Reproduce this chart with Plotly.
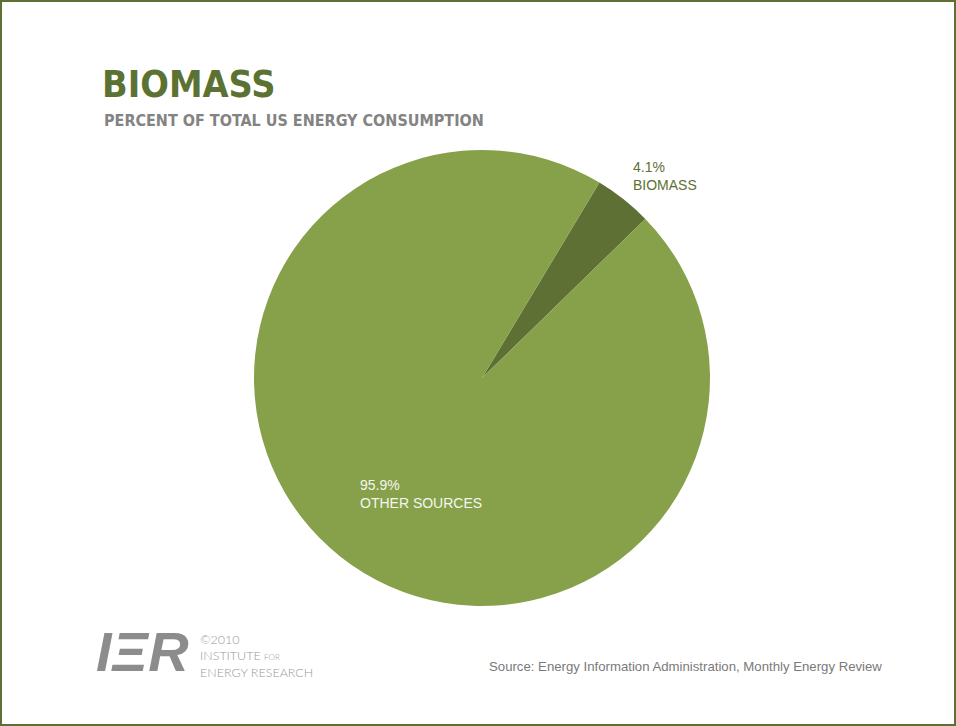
import plotly.graph_objects as go

labels = ["BIOMASS", "OTHER SOURCES"]
values = [4.1, 95.9]
colors = ["#5e7033", "#87a14b"]

W, H = 956, 726
cx, cy, r = 482, 378, 228

fig = go.Figure(go.Pie(
    labels=labels, values=values, sort=False, direction="clockwise",
    rotation=31, textinfo="none", hoverinfo="label+percent",
    marker=dict(colors=colors, line=dict(width=0)),
    domain=dict(x=[(cx - r) / W, (cx + r) / W], y=[1 - (cy + r) / H, 1 - (cy - r) / H]),
    showlegend=False,
))

ann = []
def txt(x, y, s, size, color, family="Liberation Sans", xanchor="left", yanchor="middle"):
    ann.append(dict(x=x / W, y=1 - y / H, xref="paper", yref="paper", text=s, showarrow=False,
                    xanchor=xanchor, yanchor=yanchor, align="left",
                    font=dict(size=size, color=color, family=family)))

COND = "DejaVu Sans Condensed, Roboto, sans-serif"
txt(100, 84, "<b>BIOMASS</b>", 37.5, "#5c7232", COND)
txt(102, 121, "<b>PERCENT OF TOTAL US ENERGY CONSUMPTION</b>", 16, "#838383", COND)
txt(631, 176, f"{values[0]}%<br>{labels[0]}", 14, "#5e7033")
txt(358, 494, f"{values[1]}%<br>{labels[1]}", 14, "#f4f6ee")
txt(884, 666, "Source: Energy Information Administration, Monthly Energy Review", 13.2, "#7a7a7a", xanchor="right")
txt(94, 651, "<b><i>IΞR</i></b>", 56, "#8c8c8c", "Liberation Sans")
ann.append(dict(x=198 / W, y=1 - 630 / H, xref="paper", yref="paper", showarrow=False,
                xanchor="left", yanchor="top", align="left",
                text="©2010<br>INSTITUTE <span style='font-size:8px'>FOR</span><br>ENERGY RESEARCH",
                font=dict(size=12.5, color="#999999", family="DejaVu Sans ExtraLight, Lato Light, Lato")))

fig.update_layout(
    width=W, height=H, margin=dict(l=0, r=0, t=0, b=0),
    paper_bgcolor="white", plot_bgcolor="white",
    annotations=ann,
    shapes=[dict(type="rect", xref="paper", yref="paper", x0=0, y0=0, x1=1, y1=1,
                 line=dict(color="#5e7033", width=4))],
)
fig.write_html("out.html")
